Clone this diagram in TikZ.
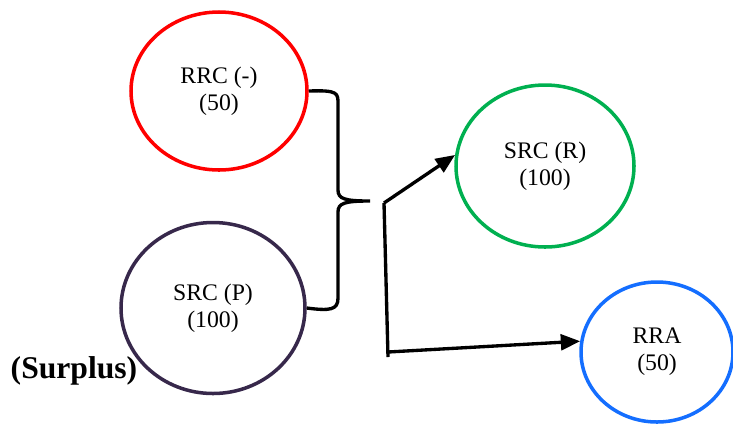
\documentclass[tikz,border=0pt]{standalone}
\usepackage{fontspec}
\setmainfont{Liberation Serif}
\usetikzlibrary{shapes.geometric,arrows.meta}

\definecolor{rrcred}{RGB}{255,0,0}
\definecolor{srcpurple}{RGB}{55,40,75}
\definecolor{srcgreen}{RGB}{0,176,80}
\definecolor{rrablue}{RGB}{20,110,255}

\tikzset{
  unit/.style={ellipse, draw, line width=2pt, inner sep=0pt, align=center,
    font=\fontsize{13.5}{15.5}\selectfont},
  blackline/.style={line width=1.9pt, black},
  arrline/.style={blackline, -{Triangle[length=11pt, width=9pt]}}
}

\begin{document}
\begin{tikzpicture}[x=0.02cm, y=-0.02cm]
  \useasboundingbox (0,0) rectangle (733,424);

  % Units
  \node[unit, draw=rrcred, minimum width=176*0.02cm, minimum height=158*0.02cm] (rrc) at (219,91) {RRC (-)\\(50)};
  \node[unit, draw=srcpurple, minimum width=184*0.02cm, minimum height=171*0.02cm] (srcp) at (213,308) {SRC (P)\\(100)};
  \node[unit, draw=srcgreen, minimum width=178*0.02cm, minimum height=162*0.02cm] (srcr) at (545,166) {SRC (R)\\(100)};
  \node[unit, draw=rrablue, minimum width=152*0.02cm, minimum height=140*0.02cm] (rra) at (657,352) {RRA\\(50)};

  \node[font=\fontsize{18}{20}\selectfont\bfseries] (surplus) at (74,371) {(Surplus)};

  % Brace
  \draw[blackline] (rrc.east) .. controls (338,90) and (338,93) .. (338,104)
    -- (338,190) .. controls (338,199) and (345,201) .. (370,201)
    .. controls (345,201) and (338,203) .. (338,212)
    -- (338,298) .. controls (338,310) and (330,311) .. (srcp.east);

  % Arrows
  \coordinate (junc) at (384,203);
  \coordinate (bend) at (388,357);
  \coordinate (hstart) at (388,352);
  \draw[arrline] (junc) -- (srcr.173);
  \draw[blackline] (junc) -- (bend);
  \draw[arrline] (hstart) -- (rra.172);
\end{tikzpicture}
\end{document}
